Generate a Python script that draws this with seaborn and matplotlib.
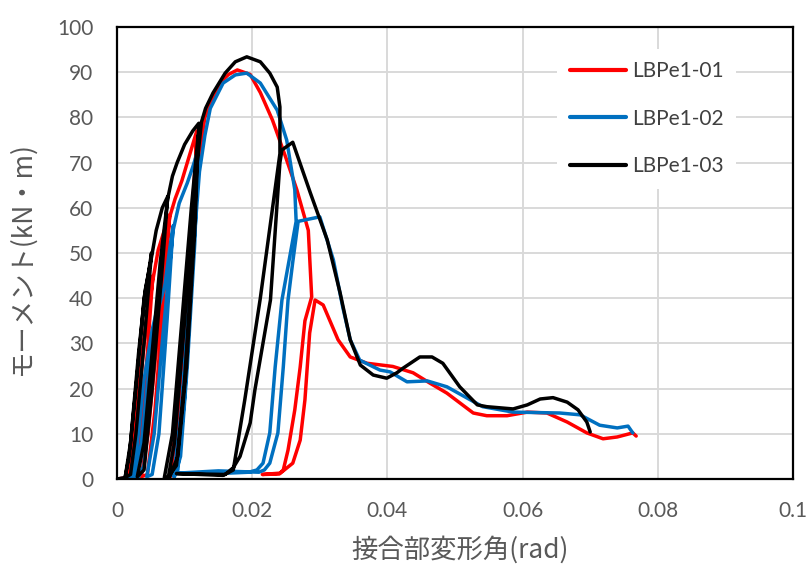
import matplotlib
matplotlib.use("Agg")
import matplotlib.pyplot as plt
import numpy as np
import pandas as pd
import seaborn as sns

# ---------------- data (rotation [rad], moment [kN·m]) ----------------
labels = ["LBPe1-01", "LBPe1-02", "LBPe1-03"]
colors = ["#ff0000", "#0070c0", "#000000"]

x_01 = [0, 0.0014, 0.0022, 0.0032, 0.0044, 0.0053,
        0.0045, 0.0034, 0.0026, 0.0018,
        0.0028, 0.0040, 0.0053,
        0.0061, 0.0070, 0.0078,
        0.0068, 0.0056, 0.0045, 0.0036,
        0.0046, 0.0060, 0.0072, 0.0078,
        0.0086, 0.0096, 0.0104, 0.0112, 0.0118,
        0.0112, 0.0100, 0.0088, 0.0078,
        0.0090, 0.0104, 0.0118,
        0.0110, 0.0096, 0.0086, 0.0078,
        0.0090, 0.0108, 0.0122, 0.0130, 0.0138, 0.0152, 0.0165, 0.0178, 0.0197,
        0.0212, 0.0230, 0.0250, 0.0266, 0.0283, 0.0288,
        0.0278, 0.0271, 0.0263, 0.0253, 0.0246, 0.0241, 0.0215, 0.0240,
        0.0260, 0.0271, 0.0278, 0.0285, 0.0293,
        0.0305, 0.0327, 0.0345, 0.0370, 0.0408, 0.0438, 0.0463, 0.0488, 0.0527,
        0.0547, 0.0577, 0.0607, 0.0636, 0.0666, 0.0695, 0.0719, 0.0740, 0.0763, 0.0768]
y_01 = [0, 0.3, 6, 22, 36, 45,
        28, 8, 0.5, 0.3,
        10, 30, 44,
        50.7, 55, 58.5,
        38, 15, 1, 0.5,
        10, 32, 50, 58,
        62, 66, 70, 74, 77,
        55, 25, 4, 0.5,
        15, 42, 75,
        50, 18, 1.5, 0.5,
        12, 45, 72, 80, 83, 87.6, 89.5, 90.5, 89.5,
        85.5, 79.4, 71, 64, 55, 40.3,
        35, 24.8, 15.3, 6.4, 2, 1.3, 1.0, 1.1,
        3.5, 8.6, 17.5, 32.3, 39.6,
        38.5, 30.8, 27, 25.6, 24.9, 23.5, 21.2, 19, 14.6,
        14, 14, 14.8, 14.6, 12.6, 10.2, 8.9, 9.3, 10.2, 9.5]

x_02 = [0, 0.0020, 0.0028, 0.0040, 0.0052, 0.0060,
        0.0050, 0.0040, 0.0032, 0.0025,
        0.0036, 0.0050, 0.0060,
        0.0071, 0.0078, 0.0083,
        0.0074, 0.0062, 0.0052, 0.0044,
        0.0055, 0.0068, 0.0083,
        0.0092, 0.0104, 0.0112, 0.0120,
        0.0115, 0.0104, 0.0094, 0.0085,
        0.0096, 0.0108, 0.0120,
        0.0112, 0.0100, 0.0090, 0.0084,
        0.0095, 0.0110, 0.0122, 0.0130, 0.0138, 0.0157, 0.0175, 0.0192, 0.0212,
        0.0237, 0.0251, 0.0263, 0.0265,
        0.0244, 0.0234, 0.0226, 0.0216, 0.0207, 0.0195, 0.0150, 0.0090, 0.0150, 0.0210,
        0.0218, 0.0226, 0.0238, 0.0246, 0.0253, 0.0260, 0.0268, 0.0300,
        0.0320, 0.0334, 0.0345, 0.0359, 0.0389, 0.0404, 0.0429, 0.0459, 0.0488,
        0.0518, 0.0541, 0.0586, 0.0655, 0.0685, 0.0714, 0.0740, 0.0756, 0.0763]
y_02 = [0, 0.3, 5, 22, 33, 38,
        18, 3, 0.5, 0.3,
        8, 28, 37,
        43, 51, 56,
        35, 10, 1, 0.5,
        10, 32, 55,
        61, 65.5, 69, 72.8,
        52, 25, 5, 0.5,
        15, 42, 72,
        48, 18, 2, 0.5,
        15, 45, 68, 76, 82, 87.6, 89.4, 89.8, 87.6,
        81.6, 75, 64, 57,
        39.6, 24.8, 10.2, 3.5, 2, 1.5, 1.2, 1.3, 1.8, 1.5,
        2, 3.5, 10.2, 24.8, 39.6, 48, 57, 58,
        48.5, 38, 30.8, 26.3, 24.1, 23.7, 21.5, 21.7, 20.4,
        17.9, 16, 14.8, 14.6, 14.2, 11.9, 11.3, 11.7, 10.2]

x_03 = [0, 0.0012, 0.0018, 0.0028, 0.0036, 0.0040, 0.0046, 0.0051,
        0.0040, 0.0028, 0.0020, 0.0012,
        0.0020, 0.0032, 0.0042, 0.0051,
        0.0058, 0.0067, 0.0075,
        0.0066, 0.0052, 0.0040, 0.0030,
        0.0040, 0.0052, 0.0064, 0.0075,
        0.0082, 0.0089, 0.0100, 0.0112, 0.0121,
        0.0115, 0.0103, 0.0090, 0.0078, 0.0070,
        0.0082, 0.0096, 0.0110, 0.0120,
        0.0114, 0.0100, 0.0088, 0.0076,
        0.0085, 0.0100, 0.0115, 0.0125, 0.0131, 0.0142, 0.0160, 0.0175, 0.0192,
        0.0212, 0.0226, 0.0237, 0.0241, 0.0241,
        0.0212, 0.0189, 0.0172, 0.0157, 0.0088, 0.0160,
        0.0172, 0.0182, 0.0197, 0.0204, 0.0227, 0.0241, 0.0244, 0.0260,
        0.0286, 0.0311, 0.0330, 0.0345, 0.0360, 0.0379, 0.0399, 0.0414, 0.0423,
        0.0448, 0.0466, 0.0482, 0.0507, 0.0533, 0.0547, 0.0586, 0.0607, 0.0626,
        0.0645, 0.0666, 0.0682, 0.0695, 0.0700]
y_03 = [0, 0.3, 5, 20, 33, 40, 45, 50,
        30, 10, 1, 0.3,
        8, 28, 42, 49,
        55, 60, 62.5,
        45, 20, 2, 0.5,
        8, 28, 48, 62,
        67, 70, 74, 77, 78.7,
        55, 25, 5, 0.5, 0.3,
        10, 35, 60, 76,
        55, 22, 3, 0.5,
        8, 35, 65, 79, 82, 85.4, 89.8, 92.3, 93.4,
        92.3, 89.8, 86.7, 82.3, 72,
        40, 17.5, 2, 0.8, 1.2, 1.0,
        2.5, 5, 12.4, 19.7, 39.6, 70, 72.8, 74.5,
        63.3, 52.9, 41.2, 30.8, 25.2, 23.0, 22.3, 23.5, 24.5,
        27.0, 27.0, 25.6, 20.4, 16.4, 16.0, 15.5, 16.4, 17.7,
        18.0, 17.0, 15.3, 12.6, 10.4]

x_ticks = [0, 0.02, 0.04, 0.06, 0.08, 0.1]
x_ticklabels = ["0", "0.02", "0.04", "0.06", "0.08", "0.1"]
y_ticks = list(range(0, 101, 10))
x_label = "接合部変形角(rad)"
y_label = "モーメント(kN・m)"

# ---------------- build frame ----------------
frames = []
for lab, xs, ys in zip(labels, [x_01, x_02, x_03], [y_01, y_02, y_03]):
    frames.append(pd.DataFrame({"rot": xs, "moment": ys, "series": lab}))
df = pd.concat(frames, ignore_index=True)

# ---------------- style ----------------
sns.set_theme(style="white")
plt.rcParams["font.family"] = ["Lato", "Noto Sans CJK JP", "DejaVu Sans"]
grey_txt = "#595959"

fig = plt.figure(figsize=(8.11, 5.69), dpi=100)
ax = fig.add_axes([117 / 811, 90 / 569, 676 / 811, 452 / 569])

sns.lineplot(data=df, x="rot", y="moment", hue="series", hue_order=labels,
             palette=dict(zip(labels, colors)), sort=False, estimator=None,
             linewidth=2.5, solid_joinstyle="round", solid_capstyle="round", ax=ax)

ax.set_xlim(0, 0.1)
ax.set_ylim(0, 100)
ax.set_xticks(x_ticks)
ax.set_xticklabels(x_ticklabels)
ax.set_yticks(y_ticks)
ax.grid(True, color="#d9d9d9", linewidth=1.4)
ax.set_axisbelow(True)
for sp in ax.spines.values():
    sp.set_visible(True)
    sp.set_color("#000000")
    sp.set_linewidth(1.6)
ax.tick_params(axis="both", length=0, labelsize=15, labelcolor=grey_txt)
ax.tick_params(axis="y", pad=17)
ax.tick_params(axis="x", pad=16)
ax.set_xlabel("")
ax.set_ylabel("")

fig.text(460 / 811, 1 - 550 / 569, x_label, ha="center", va="center",
         fontsize=19, color=grey_txt, family=["Noto Sans CJK JP", "DejaVu Sans"])
fig.text(22 / 811, 1 - 258 / 569, y_label, ha="center", va="center", rotation=90,
         fontsize=19, color=grey_txt, family=["Noto Sans CJK JP", "DejaVu Sans"])

handles, labs = ax.get_legend_handles_labels()
leg = ax.legend(handles, labs, loc="upper left", bbox_to_anchor=(0.651, 0.952),
                frameon=True, facecolor="white", edgecolor="none", framealpha=1,
                fancybox=False, fontsize=15, handlelength=2.7, handletextpad=0.3,
                labelspacing=1.32, borderpad=0.6, borderaxespad=0)
for t in leg.get_texts():
    t.set_color("#404040")
for l in leg.get_lines():
    l.set_linewidth(3)

fig.savefig("out.png", dpi=100)
